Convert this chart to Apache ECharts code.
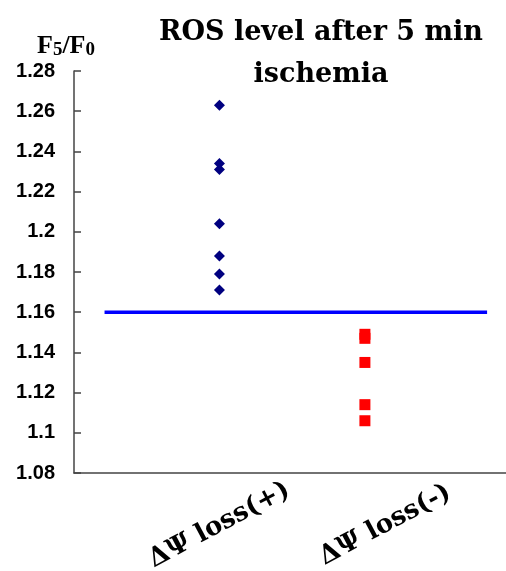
<!DOCTYPE html>
<html>
<head>
<meta charset="utf-8">
<script src="https://cdn.jsdelivr.net/npm/echarts@6/dist/echarts.min.js"></script>
<style>html,body{margin:0;padding:0;background:#fff;}#c{width:506px;height:571px;}</style>
</head>
<body>
<div id="c"></div>
<script>
// Data
var categories = ['ΔΨ loss(+)', 'ΔΨ loss(-)'];
var categoryX = [1, 2];                 // x position of each group
var labelX = [1, 2.14];                 // where each rotated category label is centred
var lossPlus = [1.263, 1.234, 1.231, 1.204, 1.188, 1.179, 1.171];
var lossMinus = [1.149, 1.147, 1.135, 1.114, 1.106];
var threshold = 1.16;
var thresholdSpan = [0.21, 2.84];
var yMin = 1.08, yMax = 1.28, yStep = 0.02;

var chart = echarts.init(document.getElementById('c'), null, {renderer: 'canvas'});
var option = {
  backgroundColor: '#fff',
  animation: false,
  title: [{
    text: 'ROS level after 5 min\nischemia',
    left: 316, top: 7, textAlign: 'center',
    textStyle: {fontFamily: 'DejaVu Serif', fontWeight: 'bold', fontSize: 27, lineHeight: 42, color: '#000'}
  }, {
    text: '{f|F}{s|5}{f|/F}{s|0}',
    left: 32, top: 27,
    textStyle: {
      rich: {
        f: {fontFamily: 'Liberation Serif', fontWeight: 'bold', fontSize: 26, lineHeight: 28, color: '#000'},
        s: {fontFamily: 'Liberation Serif', fontWeight: 'bold', fontSize: 19, verticalAlign: 'bottom', color: '#000'}
      }
    }
  }],
  grid: {left: 74, right: 0, top: 71, bottom: 98, containLabel: false, outerBoundsMode: 'none'},
  xAxis: {
    type: 'value', min: 0, max: 2.97,
    axisLine: {show: true, onZero: false, lineStyle: {color: '#444', width: 1.5}},
    axisTick: {show: false},
    splitLine: {show: false},
    axisLabel: {
      customValues: labelX,
      rotate: 28, align: 'center', verticalAlign: 'middle', margin: 52,
      fontFamily: 'DejaVu Serif', fontWeight: 'bold', fontSize: 26, color: '#000',
      formatter: function (v) {
        var i = labelX.indexOf(v);
        return i >= 0 ? categories[i] : '';
      }
    }
  },
  yAxis: {
    type: 'value', min: yMin, max: yMax, interval: yStep,
    axisLine: {show: true, onZero: false, lineStyle: {color: '#444', width: 1.5}},
    axisTick: {show: true, inside: true, length: 7, lineStyle: {color: '#444', width: 1.5}},
    splitLine: {show: false},
    axisLabel: {
      margin: 19, fontFamily: 'Liberation Sans', fontWeight: 'bold', fontSize: 20, color: '#000',
      formatter: function (v) { return String(parseFloat(v.toFixed(2))); }
    }
  },
  series: [{
    type: 'line',
    data: [[thresholdSpan[0], threshold], [thresholdSpan[1], threshold]],
    symbol: 'none',
    lineStyle: {color: '#0000ff', width: 3.5},
    z: 1
  }, {
    name: categories[0],
    type: 'scatter',
    symbol: 'diamond', symbolSize: 11,
    itemStyle: {color: '#000080', opacity: 1},
    data: lossPlus.map(function (v) { return [categoryX[0], v]; }),
    z: 3
  }, {
    name: categories[1],
    type: 'scatter',
    symbol: 'rect', symbolSize: 11,
    itemStyle: {color: '#ff0000', opacity: 1},
    data: lossMinus.map(function (v) { return [categoryX[1], v]; }),
    z: 3
  }]
};
chart.setOption(option);
</script>
</body>
</html>
